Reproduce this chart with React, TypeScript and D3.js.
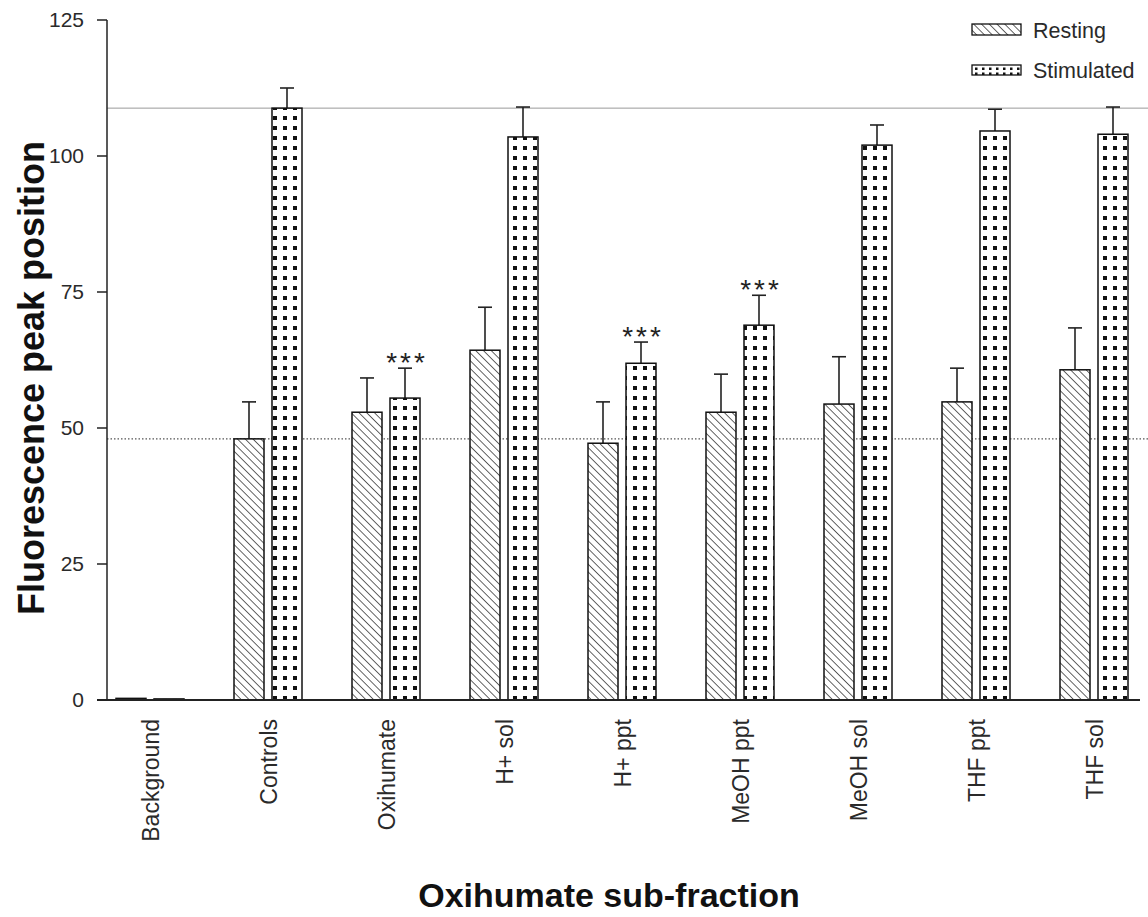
import React from "react";
import * as d3 from "d3";

const categories = ["Background", "Controls", "Oxihumate", "H+ sol", "H+ ppt", "MeOH ppt", "MeOH sol", "THF ppt", "THF sol"];
const restingMean = [0.3, 48.0, 52.9, 64.3, 47.2, 52.9, 54.4, 54.8, 60.7];
const restingErr = [0, 6.8, 6.3, 7.9, 7.6, 7.0, 8.7, 6.2, 7.7];
const stimMean = [0.2, 108.8, 55.5, 103.5, 61.9, 68.9, 102.0, 104.6, 104.0];
const stimErr = [0, 3.7, 5.5, 5.5, 3.9, 5.5, 3.7, 4.0, 5.0];
const significant = [false, false, true, false, true, true, false, false, false];
const yTicks = [0, 25, 50, 75, 100, 125];
const refLines = [108.8, 48.0];

export default function App() {
  const W = 1148, H = 917;
  const y = d3.scaleLinear().domain([0, 125]).range([700, 20]);
  const x = d3.scaleBand().domain(categories).range([91, 1153]).paddingInner(0).paddingOuter(0);
  const bw = 30;
  const font = "'Liberation Sans', Arial, sans-serif";
  const txt = "#2a2a2a";

  return (
    <svg width={W} height={H} style={{ position: "absolute", left: 0, top: 0, background: "#fff" }} fontFamily={font}>
      <defs>
        <pattern id="hatch" patternUnits="userSpaceOnUse" width="5.5" height="5.5" patternTransform="rotate(-45)">
          <rect width="5.5" height="5.5" fill="#fff" />
          <line x1="0" y1="0" x2="0" y2="5.5" stroke="#111" strokeWidth="1.3" />
        </pattern>
        <pattern id="dots" patternUnits="userSpaceOnUse" width="10" height="10" x="0" y="3">
          <rect width="10" height="10" fill="#fff" />
          <rect x="3" y="3" width="4" height="4" fill="#111" />
        </pattern>
        <pattern id="dotsL" patternUnits="userSpaceOnUse" width="7" height="5" x="0" y="1">
          <rect width="7" height="5" fill="#fff" />
          <rect x="2" y="1.5" width="2.5" height="2.5" fill="#111" />
        </pattern>
      </defs>

      {/* reference lines */}
      <line x1={107} x2={1148} y1={y(refLines[0])} y2={y(refLines[0])} stroke="#999" strokeWidth={1} />
      <line x1={107} x2={1148} y1={y(refLines[1])} y2={y(refLines[1])} stroke="#555" strokeWidth={1.2} strokeDasharray="1.5,2" />

      {/* bars */}
      {categories.map((c, i) => {
        const cx = (x(c) as number) + x.bandwidth() / 2;
        const rx = cx - 34, sx = cx + 4;
        const items = [
          { xx: rx, m: restingMean[i], e: restingErr[i], fill: "url(#hatch)" },
          { xx: sx, m: stimMean[i], e: stimErr[i], fill: "url(#dots)" },
        ];
        return (
          <g key={c}>
            {items.map((it, k) => (
              <g key={k}>
                {it.e > 0 && (
                  <g stroke="#222" strokeWidth={1.6}>
                    <line x1={it.xx + bw / 2} x2={it.xx + bw / 2} y1={y(it.m)} y2={y(it.m + it.e)} />
                    <line x1={it.xx + bw / 2 - 7} x2={it.xx + bw / 2 + 7} y1={y(it.m + it.e)} y2={y(it.m + it.e)} />
                  </g>
                )}
                <rect x={it.xx} y={y(it.m)} width={bw} height={y(0) - y(it.m)} fill={it.fill} stroke="#111" strokeWidth={1.5} />
              </g>
            ))}
            {significant[i] && (
              <text x={sx + bw / 2 + 2} y={y(stimMean[i] + stimErr[i]) + 4} textAnchor="middle" fontSize={28} fill="#222" letterSpacing={3}>***</text>
            )}
          </g>
        );
      })}

      {/* axes */}
      <line x1={107} x2={107} y1={20} y2={700} stroke="#222" strokeWidth={1.5} />
      <line x1={97} x2={1140} y1={700} y2={700} stroke="#222" strokeWidth={1.8} />
      {yTicks.map((t) => (
        <g key={t}>
          <line x1={97} x2={107} y1={y(t)} y2={y(t)} stroke="#222" strokeWidth={1.5} />
          <text x={84} y={y(t) + 7} textAnchor="end" fontSize={21} fill={txt}>{t}</text>
        </g>
      ))}
      {categories.map((c) => {
        const cx = (x(c) as number) + x.bandwidth() / 2;
        return (
          <text key={c} transform={`translate(${cx + 9},719) rotate(-90)`} textAnchor="end" fontSize={23} fill={txt}>{c}</text>
        );
      })}

      {/* titles */}
      <text transform="translate(44,378) rotate(-90)" textAnchor="middle" fontSize={36} fontWeight="bold" fill="#111">Fluorescence peak position</text>
      <text x={609} y={907} textAnchor="middle" fontSize={34} fontWeight="bold" fill="#111">Oxihumate sub-fraction</text>

      {/* legend */}
      <rect x={972} y={24} width={49} height={11} fill="url(#hatch)" stroke="#111" strokeWidth={1.3} />
      <text x={1033} y={38} fontSize={21.5} fill={txt}>Resting</text>
      <rect x={972} y={65} width={49} height={10} fill="url(#dotsL)" stroke="#111" strokeWidth={1.3} />
      <text x={1033} y={78} fontSize={21.5} fill={txt}>Stimulated</text>
    </svg>
  );
}
